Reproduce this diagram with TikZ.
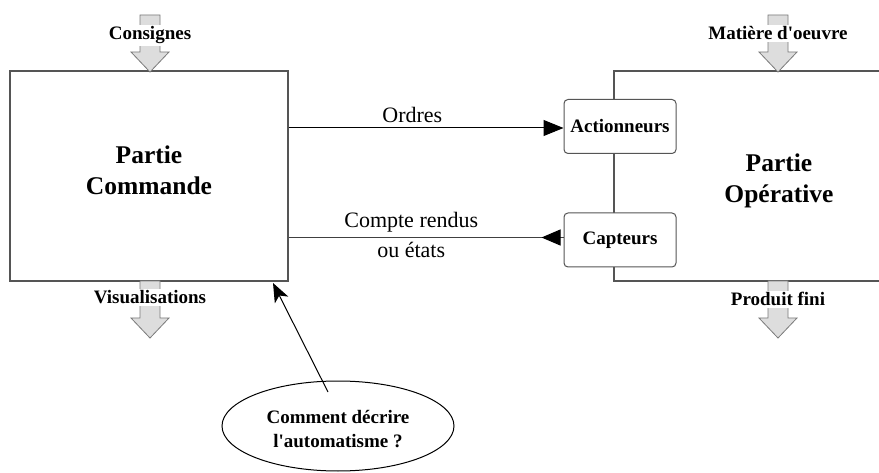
\documentclass[tikz,border=0pt]{standalone}
\usepackage{fontspec}
\setmainfont{Liberation Serif}
% a family without the TeX quote mapping, so that ' stays a straight apostrophe
\newfontfamily\plainserif{Liberation Serif}
\usetikzlibrary{arrows.meta,shapes.geometric,decorations.markings}
\definecolor{boxline}{HTML}{555555}
\definecolor{flowfill}{HTML}{DDDDDD}
\definecolor{flowline}{HTML}{7A7A7A}
\begin{document}
\begin{tikzpicture}[x=1pt,y=-1pt,
  bloc/.style={draw=boxline, line width=1.3pt, minimum height=210pt},
  titre/.style={align=center, font=\plainserif\fontsize{25.5}{31}\selectfont\bfseries},
  organe/.style={draw=boxline, line width=1pt, fill=white, rounded corners=4pt,
    minimum width=112pt, minimum height=54pt,
    font=\plainserif\fontsize{19}{23}\selectfont\bfseries},
  flux/.style={font=\plainserif\fontsize{19}{23}\selectfont\bfseries, fill=white, inner sep=2pt},
  signal/.style={font=\plainserif\fontsize{22}{27}\selectfont},
  flowarrow/.pic={\draw[draw=flowline, fill=flowfill, line width=0.8pt]
    (-10,0) -- (-10,37) -- (-19,37) -- (0,57) -- (19,37) -- (10,37) -- (10,0) -- cycle;},
]
\useasboundingbox (0,0) rectangle (879,473);
\fill[white] (0,0) rectangle (879,473);
\clip (0,0) rectangle (879,473);

% control part and operative part
\node[bloc, minimum width=278pt] (pc) at (149,176) {};
\node[bloc, minimum width=330pt] (po) at (779,176) {};
\node[titre] (pctitle) at (149,170) {Partie\\Commande};
\node[titre] (potitle) at (779,181) {Partie\\Opérative};

% actuators and sensors on the operative part
\node[organe] (act) at (620,126.5) {Actionneurs};
\node[organe] (capt) at (620,240) {Capteurs};

% flows entering and leaving both parts
\pic at (150,15) {flowarrow};
\pic at (150,281) {flowarrow};
\pic at (778,15) {flowarrow};
\pic at (778,281) {flowarrow};
\node[flux, anchor=base] (consignes) at (150,40) {Consignes};
\node[flux, anchor=base] (visu) at (150,304) {Visualisations};
\node[flux, anchor=base] (matiere) at (778,40) {Matière d'oeuvre};
\node[flux, anchor=base] (produit) at (778,306) {Produit fini};

% orders and feedback
\draw[line width=1pt, -{Triangle[length=20pt,width=16pt]}]
  ([yshift=-1.5pt]act.west -| pc.east) -- node[signal, pos=0.45, above=1pt] {Ordres}
  ([yshift=-1.5pt]act.west);
\draw[draw=black!75, line width=1pt, postaction={decorate},
  decoration={markings, mark=at position 22pt with {\arrow[black]{Triangle[length=19pt,width=16pt]}}}]
  ([yshift=2.5pt]capt.west) -- node[signal, pos=0.554, above=1pt] {Compte rendus}
  node[signal, pos=0.554, below=1pt] {ou états} ([yshift=2.5pt]capt.west -| pc.east);

% question bubble
\node[draw, ellipse, line width=1pt, minimum width=232pt, minimum height=90pt] (question) at (338,426) {};
\node[align=center, font=\plainserif\fontsize{19}{24}\selectfont\bfseries] (qtext) at (338,429)
  {Comment décrire\\l'automatisme ?};
\coordinate (tail) at (328,392);
\coordinate (head) at (273,283);
\draw[line width=1pt, -{Stealth[length=19pt,width=15pt,inset=5pt]}] (tail) -- (head);
\end{tikzpicture}
\end{document}
